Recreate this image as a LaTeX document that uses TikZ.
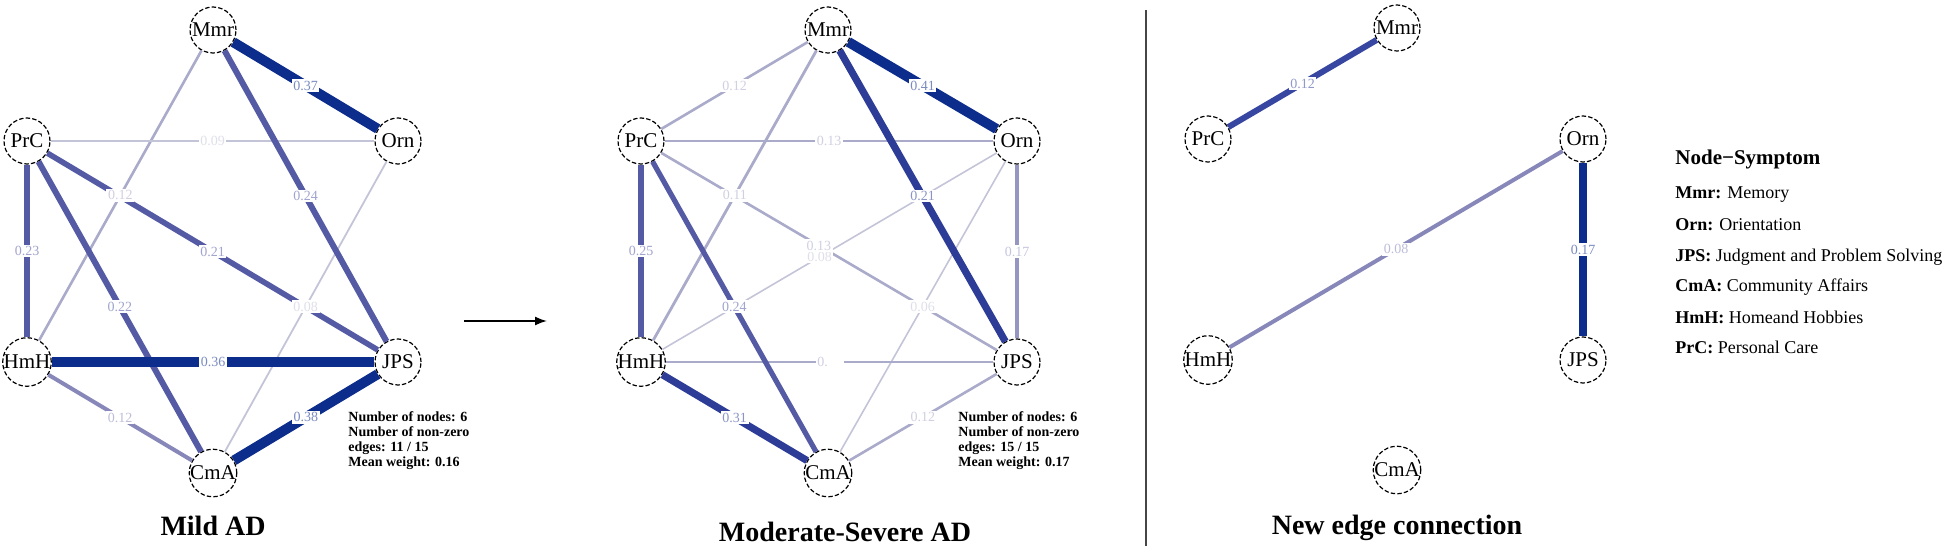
\documentclass[tikz,border=0pt]{standalone}
\usepackage{fontspec}
\setmainfont{Liberation Serif}
\usetikzlibrary{arrows.meta}
\pgfdeclarelayer{labs}
\pgfsetlayers{main,labs}
\definecolor{dk}{RGB}{13,45,140}
\definecolor{dm}{RGB}{45,60,150}
\definecolor{md}{RGB}{85,90,165}
\definecolor{ml}{RGB}{135,135,185}
\definecolor{mlb}{RGB}{150,150,195}
\definecolor{lt}{RGB}{170,170,202}
\definecolor{vl}{RGB}{196,196,216}
\definecolor{nta}{RGB}{55,70,160}
\definecolor{sep}{RGB}{70,70,70}
\newcommand{\ed}[6][midway]{%
  \draw[line width=#4pt,draw=#5] (#2) -- coordinate[#1] (#2#3) (#3);
  \begin{pgfonlayer}{labs}\node[elab,text=#5!55!white] (l#2#3) at (#2#3) {#6};\end{pgfonlayer}}
\begin{document}
\begin{tikzpicture}[x=0.5pt,y=-0.5pt,
  nd/.style={circle,draw=black,line width=0.6pt,dash pattern=on 2.2pt off 1.1pt,fill=white,minimum size=23pt,inner sep=0pt,font=\fontsize{10.5}{11}\selectfont},
  elab/.style={fill=white,inner sep=0.8pt,font=\fontsize{7}{8}\selectfont},
  ttl/.style={font=\bfseries\fontsize{14}{16}\selectfont,inner sep=0pt},
  stats/.style={font=\bfseries\fontsize{7}{7.5}\selectfont,align=left,anchor=north west,inner sep=0pt},
  leg/.style={font=\fontsize{9}{10}\selectfont,anchor=west,inner sep=0pt}]
\useasboundingbox (0,0) rectangle (1949,556);
% network 1
\node[nd] (aM) at (213,30) {Mmr};
\node[nd] (aP) at (27,141) {PrC};
\node[nd] (aO) at (398,141) {Orn};
\node[nd] (aH) at (27,362) {HmH};
\node[nd] (aJ) at (398,362) {JPS};
\node[nd] (aC) at (213,473) {CmA};
\ed{aM}{aH}{1.3}{lt}{0.12}
\ed{aP}{aO}{1}{vl}{0.09}
\ed{aO}{aC}{0.9}{vl}{0.08}
\ed{aH}{aC}{2}{ml}{0.12}
\ed{aM}{aJ}{3}{md}{0.24}
\ed{aP}{aH}{3}{md}{0.23}
\ed{aP}{aC}{3}{md}{0.22}
\ed{aP}{aJ}{2.8}{md}{0.21}
\ed{aM}{aO}{5}{dk}{0.37}
\ed{aH}{aJ}{5}{dk}{0.36}
\ed{aC}{aJ}{5}{dk}{0.38}
\node[stats] (aS) at (348,411) {Number of nodes: 6\\Number of non-zero\\edges: 11 / 15\\Mean weight: 0.16};
\node[ttl] (aT) at (213,526) {Mild AD};
% arrow
\coordinate (arS) at (464,321);
\coordinate (arE) at (547,321);
\draw[line width=0.8pt,-{Latex[length=6pt,width=4.5pt]}] (arS) -- (arE);
% network 2
\node[nd] (bM) at (828,30) {Mmr};
\node[nd] (bP) at (641,141) {PrC};
\node[nd] (bO) at (1017,141) {Orn};
\node[nd] (bH) at (641,362) {HmH};
\node[nd] (bJ) at (1017,362) {JPS};
\node[nd] (bC) at (828,473) {CmA};
\ed[pos=0.47]{bH}{bO}{0.8}{vl}{0.08}
\ed{bO}{bC}{0.8}{vl}{0.06}
\ed{bM}{bP}{1.3}{lt}{0.12}
\ed{bM}{bH}{1.4}{lt}{0.11}
\ed{bP}{bO}{1.1}{lt}{0.13}
\ed[pos=0.47]{bP}{bJ}{1.3}{lt}{0.13}
\ed{bH}{bJ}{1.2}{lt}{0.\phantom{00}}
\ed{bJ}{bC}{1.3}{lt}{0.12}
\ed{bO}{bJ}{2}{mlb}{0.17}
\ed{bP}{bH}{2.6}{md}{0.25}
\ed{bP}{bC}{2.6}{md}{0.24}
\ed{bM}{bJ}{3.6}{dm}{0.21}
\ed{bH}{bC}{3.6}{dm}{0.31}
\ed{bM}{bO}{5}{dk}{0.41}
\node[stats] (bS) at (958,411) {Number of nodes: 6\\Number of non-zero\\edges: 15 / 15\\Mean weight: 0.17};
\node[ttl] (bT) at (845,532) {Moderate-Severe AD};
% separator
\coordinate (sT) at (1146,10);
\coordinate (sB) at (1146,546);
\draw[line width=1pt,sep] (sT) -- (sB);
% network 3
\node[nd] (cM) at (1397,28) {Mmr};
\node[nd] (cP) at (1208,139) {PrC};
\node[nd] (cO) at (1583,139) {Orn};
\node[nd] (cH) at (1208,360) {HmH};
\node[nd] (cJ) at (1583,360) {JPS};
\node[nd] (cC) at (1397,470) {CmA};
\ed{cM}{cP}{3}{nta}{0.12}
\ed{cO}{cH}{2}{ml}{0.08}
\ed{cO}{cJ}{3.6}{dk}{0.17}
\node[ttl] (cT) at (1397,528) {New edge connection};
% legend
\node[leg,font=\bfseries\fontsize{10.5}{12}\selectfont] (L0) at (1675,159) {Node−Symptom};
\node[leg] (L1) at (1675,195) {\textbf{Mmr:} Memory};
\node[leg] (L2) at (1675,225) {\textbf{Orn:} Orientation};
\node[leg] (L3) at (1675,257) {\textbf{JPS:} Judgment and Problem Solving};
\node[leg] (L4) at (1675,287) {\textbf{CmA:} Community Affairs};
\node[leg] (L5) at (1675,317) {\textbf{HmH:} Homeand Hobbies};
\node[leg] (L6) at (1675,347) {\textbf{PrC:} Personal Care};
\end{tikzpicture}
\end{document}
